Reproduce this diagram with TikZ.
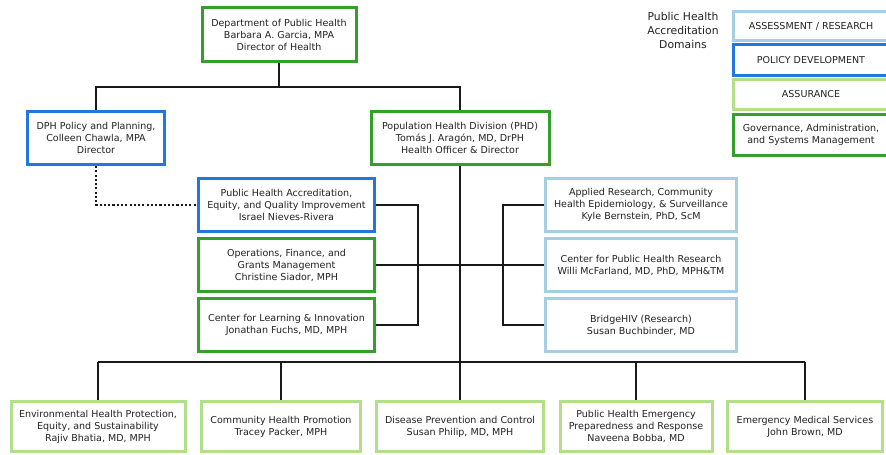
\documentclass[tikz,border=0pt]{standalone}
\usepackage{fontspec}
\setmainfont{DejaVu Sans}
\usepackage{tikz}
\usetikzlibrary{positioning,calc}
\definecolor{govGreen}{RGB}{51,160,44}
\definecolor{assureGreen}{RGB}{178,223,138}
\definecolor{policyBlue}{RGB}{33,118,224}
\definecolor{assessBlue}{RGB}{166,206,227}
\definecolor{orgInk}{RGB}{34,34,34}

\begin{document}
\begin{tikzpicture}[x=0.75pt,y=-0.75pt,
        font=\fontsize{7.15}{9}\selectfont,
        unit/.style={rectangle,draw,fill=white,line width=2.25pt,text=orgInk,
                     align=center,inner sep=0pt,minimum height=39.75pt},
        gov/.style={unit,draw=govGreen},
        policy/.style={unit,draw=policyBlue},
        assure/.style={unit,draw=assureGreen,minimum height=37.5pt},
        assess/.style={unit,draw=assessBlue},
        link/.style={draw=black!90,line width=1.25pt},
        dotlink/.style={draw=black!90,line width=0.9pt,dash pattern=on 1.6pt off 1.6pt}]
  \useasboundingbox (0,0) rectangle (886,454);

  % top of the chart
  \node[gov,minimum width=115.5pt,minimum height=40.5pt] (dph) at (279,34.5)
    {Department of Public Health\\Barbara A. Garcia, MPA\\Director of Health};
  \node[policy,minimum width=102.75pt] (plan) at (96,138)
    {DPH Policy and Planning,\\Colleen Chawla, MPA\\Director};
  \node[gov,minimum width=133.5pt] (phd) at (460,138)
    {Population Health Division (PHD)\\Tomás J. Aragón, MD, DrPH\\Health Officer \& Director};

  % left column
  \node[policy,minimum width=132pt] (phaeqi) at (286.5,205)
    {Public Health Accreditation,\\Equity, and Quality Improvement\\Israel Nieves-Rivera};
  \node[gov,minimum width=132pt] (ops) at (286.5,265)
    {Operations, Finance, and\\Grants Management\\Christine Siador, MPH};
  \node[gov,minimum width=132pt] (cli) at (286.5,325)
    {Center for Learning \& Innovation\\Jonathan Fuchs, MD, MPH};

  % right column
  \node[assess,minimum width=143.25pt] (arches) at (641,205)
    {Applied Research, Community\\Health Epidemiology, \& Surveillance\\Kyle Bernstein, PhD, ScM};
  \node[assess,minimum width=143.25pt] (cphr) at (641,265)
    {Center for Public Health Research\\Willi McFarland, MD, PhD, MPH\&TM};
  \node[assess,minimum width=143.25pt] (bridge) at (641,325)
    {BridgeHIV (Research)\\Susan Buchbinder, MD};

  % bottom row
  \node[assure,minimum width=130.5pt] (ehp) at (98,426.5)
    {Environmental Health Protection,\\Equity, and Sustainability\\Rajiv Bhatia, MD, MPH};
  \node[assure,minimum width=119.25pt] (chp) at (281,426.5)
    {Community Health Promotion\\Tracey Packer, MPH};
  \node[assure,minimum width=125.25pt] (dpc) at (460,426.5)
    {Disease Prevention and Control\\Susan Philip, MD, MPH};
  \node[assure,minimum width=114pt] (phepr) at (636,426.5)
    {Public Health Emergency\\Preparedness and Response\\Naveena Bobba, MD};
  \node[assure,minimum width=116.25pt] (ems) at (805,426.5)
    {Emergency Medical Services\\John Brown, MD};

  % legend
  \node[text=orgInk,align=center,font=\fontsize{8.1}{10.5}\selectfont] (lgtitle) at (683,30)
    {Public Health\\Accreditation\\Domains};
  \node[assess,minimum width=116.25pt,minimum height=21.75pt] (lgassess) at (811,26)
    {ASSESSMENT / RESEARCH};
  \node[policy,minimum width=116.25pt,minimum height=23.25pt] (lgpolicy) at (811,60)
    {POLICY DEVELOPMENT};
  \node[assure,minimum width=116.25pt,minimum height=22.5pt] (lgassure) at (811,94.5)
    {ASSURANCE};
  \node[gov,minimum width=116.25pt,minimum height=30.75pt] (lggov) at (811,135)
    {Governance, Administration,\\and Systems Management};

  % connectors
  \coordinate (topbus) at (279,87);
  \coordinate (busL) at (98,362);
  \coordinate (busR) at (805,362);
  \coordinate (lbrk) at (418,0);
  \coordinate (rbrk) at (503,0);
  \draw[link] (dph.south) -- (topbus) -| (plan.north);
  \draw[link] (topbus) -| (phd.north);
  \draw[link] (phd.south) -- (phd.south |- busL);
  \draw[link] (busL) -- (busR);
  \foreach \n in {ehp,chp,dpc,phepr,ems}
    \draw[link] (\n.north) -- (\n.north |- busL);
  \draw[link] (phaeqi.east) -| (lbrk |- cli.east) -- (cli.east);
  \draw[link] (arches.west) -| (rbrk |- bridge.west) -- (bridge.west);
  \draw[link] (ops.east) -- (cphr.west);
  \draw[dotlink] (plan.south) |- (phaeqi.west);
\end{tikzpicture}
\end{document}
